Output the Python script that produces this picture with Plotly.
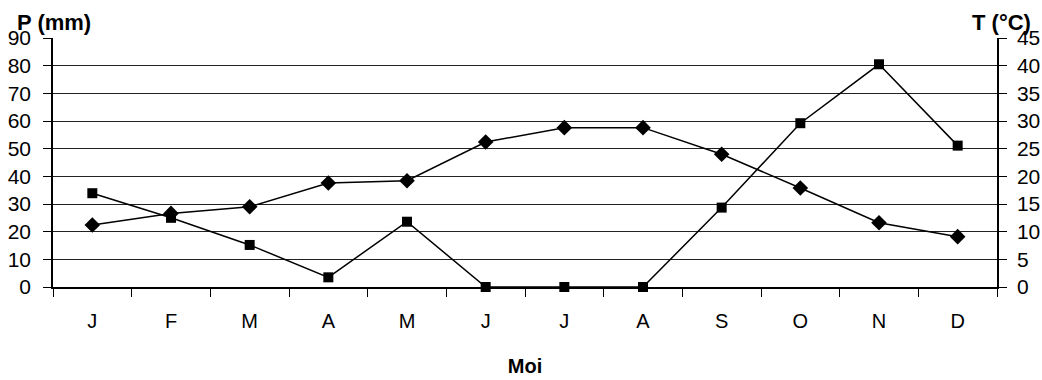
import plotly.graph_objects as go

months = ["J", "F", "M", "A", "M", "J", "J", "A", "S", "O", "N", "D"]
precip_mm = [33.9, 25.0, 15.2, 3.5, 23.6, 0, 0, 0, 28.7, 59.2, 80.5, 51.1]
temp_c = [11.2, 13.3, 14.5, 18.8, 19.2, 26.2, 28.8, 28.8, 24.0, 17.9, 11.6, 9.1]
p_ticks = list(range(0, 91, 10))
t_ticks = list(range(0, 46, 5))

x = list(range(len(months)))
FONT = "Liberation Sans, Arial, sans-serif"

fig = go.Figure()
fig.add_trace(go.Scatter(
    x=x, y=precip_mm, mode="lines+markers", name="P",
    line=dict(color="black", width=1.5),
    marker=dict(symbol="square", size=10, color="black"),
    yaxis="y", cliponaxis=False,
))
fig.add_trace(go.Scatter(
    x=x, y=temp_c, mode="lines+markers", name="T",
    line=dict(color="black", width=1.5),
    marker=dict(symbol="diamond", size=12, color="black"),
    yaxis="y2", cliponaxis=False,
))

fig.update_layout(
    width=1042, height=380,
    margin=dict(l=53, r=45, t=38, b=93),
    paper_bgcolor="white", plot_bgcolor="white",
    showlegend=False,
    font=dict(family=FONT, color="black"),
    xaxis=dict(
        range=[-0.5, 11.5], tickmode="array", tickvals=x, ticktext=months,
        showgrid=False, zeroline=False, automargin=False,
        showline=True, linecolor="black", linewidth=1.5,
        ticks="", ticklabelstandoff=15,
        minor=dict(tick0=-0.5, dtick=1, ticks="outside", ticklen=8,
                   tickcolor="black", showgrid=False),
        tickfont=dict(size=20),
        title=dict(text="<b>Moi</b>", font=dict(size=20), standoff=28),
    ),
    yaxis=dict(
        range=[0, 90], tickmode="array", tickvals=p_ticks,
        showgrid=True, gridcolor="#222", gridwidth=1, automargin=False,
        zeroline=False, showline=True, linecolor="black", linewidth=1.5,
        ticks="outside", ticklen=8, tickcolor="black", ticklabelstandoff=8,
        tickfont=dict(size=21),
    ),
    yaxis2=dict(
        range=[0, 45], tickmode="array", tickvals=t_ticks, automargin=False,
        overlaying="y", side="right", showgrid=False, zeroline=False,
        showline=True, linecolor="black", linewidth=1.5,
        ticks="outside", ticklen=8, tickcolor="black", ticklabelstandoff=6,
        tickfont=dict(size=21),
    ),
    annotations=[
        dict(text="<b>P (mm)</b>", xref="paper", yref="paper", x=0, y=1,
             xshift=-38, yshift=1, xanchor="left", yanchor="bottom",
             showarrow=False, font=dict(size=22)),
        dict(text="<b>T (°C)</b>", xref="paper", yref="paper", x=1, y=1,
             xshift=36, yshift=1, xanchor="right", yanchor="bottom",
             showarrow=False, font=dict(size=22)),
    ],
)

fig.write_html(
    "out.html",
    config={"displayModeBar": False},
    post_script="document.body.style.margin='0';document.body.style.overflow='hidden';",
)
